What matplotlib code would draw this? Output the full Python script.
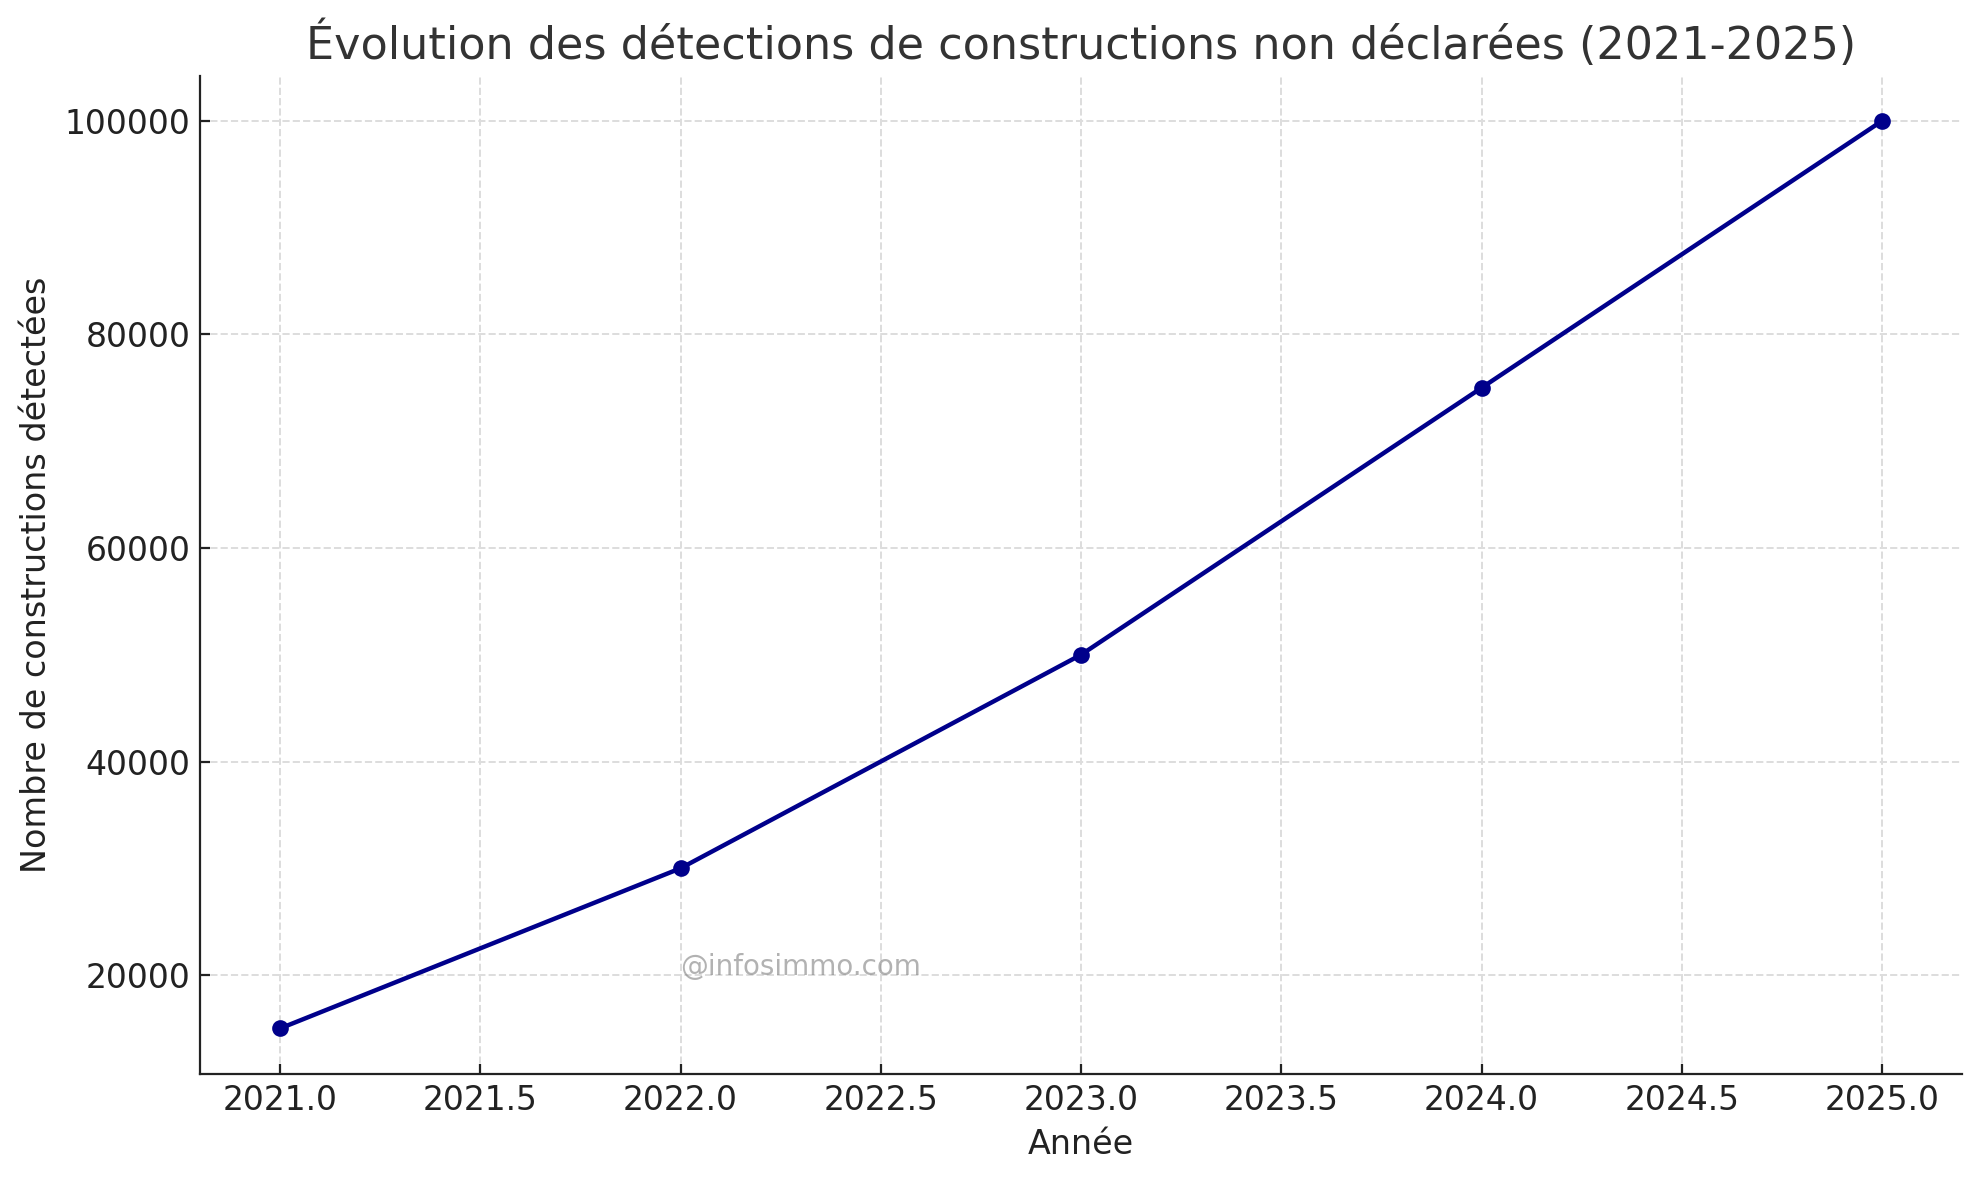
import matplotlib
matplotlib.use("Agg")
import matplotlib.pyplot as plt

# data
annees = [2021, 2022, 2023, 2024, 2025]
detections = [15000, 30000, 50000, 75000, 100000]

fig, ax = plt.subplots(figsize=(9.9, 5.9), dpi=200)

ax.plot(annees, detections, marker='o', color='darkblue', linewidth=1.6, markersize=5)

ax.set_title("Évolution des détections de constructions non déclarées (2021-2025)",
             fontsize=16, color='#333333')
ax.set_xlabel("Année", fontsize=12, color='#222222')
ax.set_ylabel("Nombre de constructions détectées", fontsize=12, color='#222222')
ax.tick_params(labelsize=11.9, colors='#222222', direction='in', length=3.5)

ax.grid(True, linestyle='--', color='#dddddd', linewidth=0.7)
ax.spines['top'].set_visible(False)
ax.spines['right'].set_visible(False)
for s in ['left', 'bottom']:
    ax.spines[s].set_color('#222222')

# watermark
ax.text(2022, 20000, "@infosimmo.com", fontsize=10, color='gray', alpha=0.6)

fig.subplots_adjust(left=0.101, right=0.991, top=0.936, bottom=0.09)
fig.savefig("out.png", dpi=200)
